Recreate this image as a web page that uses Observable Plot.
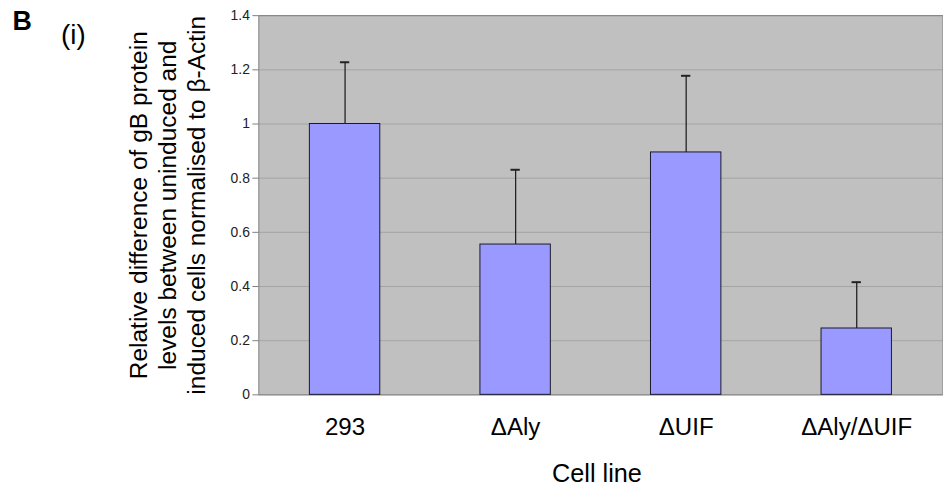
<!DOCTYPE html>
<html><head><meta charset="utf-8">
<script src="https://cdn.jsdelivr.net/npm/d3@7"></script>
<script src="https://cdn.jsdelivr.net/npm/@observablehq/plot@0.6"></script>
<style>
html,body{margin:0;padding:0;background:#fff;overflow:hidden;}
#chart{width:943px;height:493px;overflow:hidden;position:relative;}
</style></head><body><div id="chart"></div>
<script>
const cellLines = ["293", "ΔAly", "ΔUIF", "ΔAly/ΔUIF"];
const meanValues = [1.0, 0.555, 0.895, 0.245];
const upperErrors = [1.228, 0.831, 1.178, 0.416];
const yTicks = [0, 0.2, 0.4, 0.6, 0.8, 1, 1.2, 1.4];
const yTickLabels = ["0", "0.2", "0.4", "0.6", "0.8", "1", "1.2", "1.4"];
const yTitleLines = ["Relative difference of gB protein", "levels between uninduced and", "induced cells normalised to β-Actin"];
const xTitle = "Cell line";
const panelLabel = "B";
const subLabel = "(i)";

const data = cellLines.map((c, i) => ({cell: c, value: meanValues[i], upper: upperErrors[i]}));
const font = "'Liberation Sans', Arial, Helvetica, sans-serif";

const chart = Plot.plot({
  width: 951, height: 493,
  marginLeft: 260.5, marginRight: 0.5, marginTop: 15.3, marginBottom: 95.3,
  style: {fontFamily: font, background: "transparent"},
  x: {domain: cellLines, paddingInner: 0.59, paddingOuter: 0.295, axis: null},
  y: {domain: [0, 1.4], axis: null},
  marks: [
    Plot.frame({fill: "#c0c0c0", stroke: "none"}),
    Plot.gridY(yTicks, {stroke: "#a4a4a4", strokeOpacity: 1}),
    Plot.frame({stroke: "#808080", fill: "none"}),
    Plot.barY(data, {x: "cell", y: "value", fill: "#9999ff", stroke: "#1a1a2a", strokeWidth: 1}),
    Plot.ruleX(data, {x: "cell", y1: "value", y2: "upper", stroke: "#222", strokeWidth: 1.3}),
    Plot.tickY(data, {x: "cell", y: "upper", stroke: "#222", strokeWidth: 2, insetLeft: 30.8, insetRight: 30.8}),
    Plot.axisY({ticks: yTicks, tickFormat: d => yTickLabels[yTicks.indexOf(d)], tickSize: 6, tickPadding: 3, fontSize: 14, stroke: "#808080", fill: "#222", label: null}),
    Plot.axisX({tickSize: 0, tickPadding: 23, fontSize: 24.3, fill: "#000", label: null}),
    Plot.text([xTitle], {text: d => d, frameAnchor: "bottom", dy: 69.5, dx: -4, fontSize: 25.5, lineAnchor: "top", fill: "#000"}),
    Plot.text([yTitleLines.join("\n")], {text: d => d, frameAnchor: "left", rotate: -90, dx: -93, fontSize: 24.7, lineHeight: 1.2, textAnchor: "middle", lineAnchor: "middle", fill: "#000"}),
    Plot.text([panelLabel], {text: d => d, frameAnchor: "top-left", dx: -248.5, dy: -5, fontSize: 27, fontWeight: "bold", textAnchor: "start", lineAnchor: "top", fill: "#000"}),
    Plot.text([subLabel], {text: d => d, frameAnchor: "top-left", dx: -199.5, dy: 8.5, fontSize: 28, textAnchor: "start", lineAnchor: "top", fill: "#000"})
  ]
});
document.getElementById("chart").appendChild(chart);
</script>
</body></html>
